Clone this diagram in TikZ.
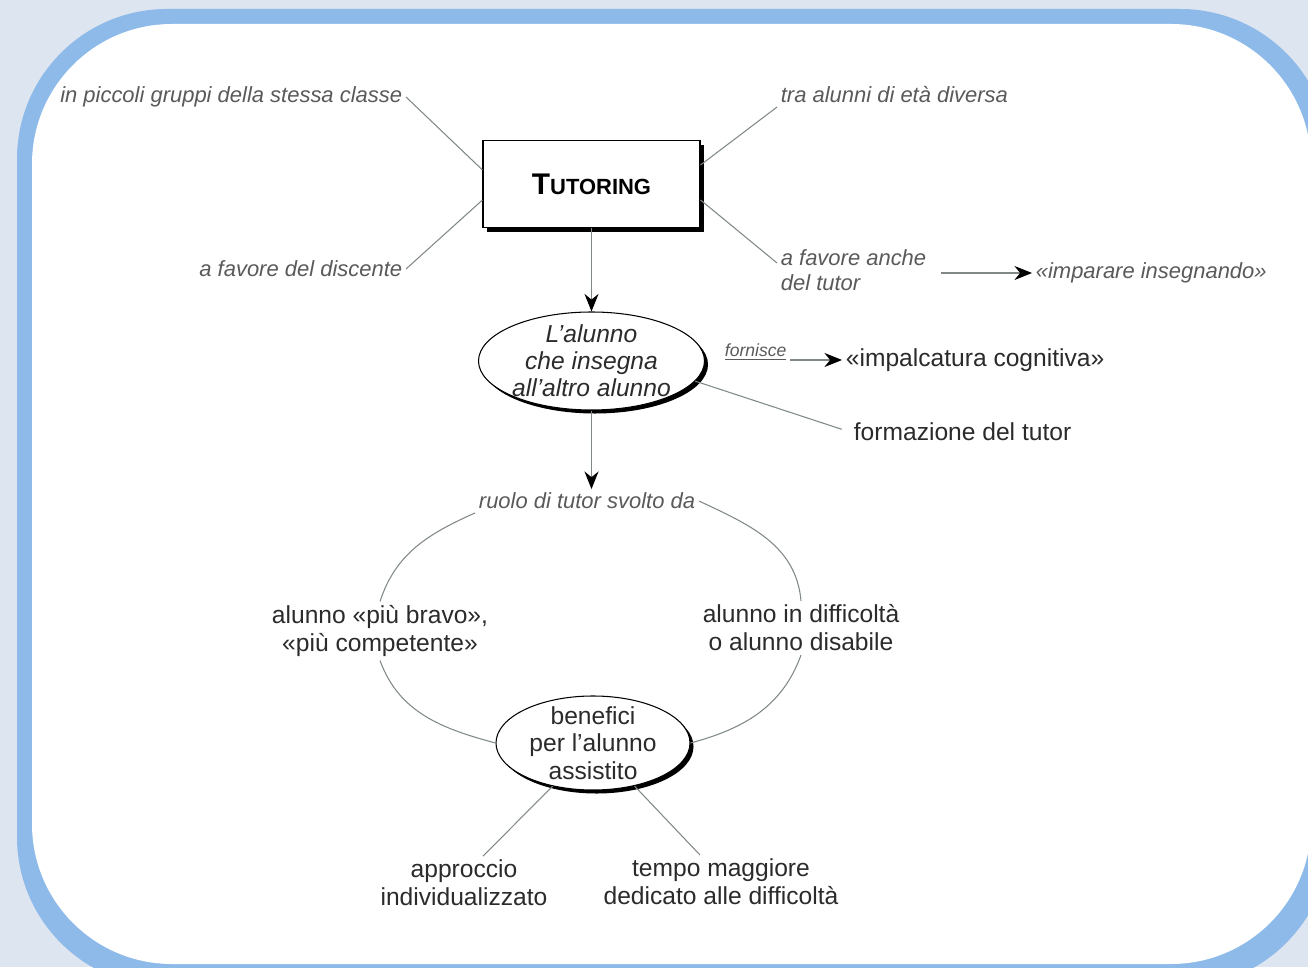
\documentclass[tikz,border=0pt]{standalone}
\usepackage{fontspec}
\setmainfont{Liberation Sans}
\usetikzlibrary{shapes.geometric,shadows,arrows.meta}
\definecolor{pagebg}{HTML}{DDE5F0}
\definecolor{panelblue}{HTML}{8EBAEA}
\definecolor{inkgray}{HTML}{2B2B2B}
\definecolor{notegray}{HTML}{5A5A5A}
\definecolor{linegray}{HTML}{808888}

\begin{document}
\begin{tikzpicture}[scale=1]
\tikzstyle{tutorbox} = [rectangle, draw=black, line width=0.6pt, fill=white, minimum width=4.34cm, minimum height=1.74cm, drop shadow={shadow xshift=2.5pt, shadow yshift=-2.5pt, fill=black, opacity=1}]
\tikzstyle{oval} = [ellipse, draw=black, line width=0.6pt, fill=white, inner xsep=0pt, inner ysep=-5pt, align=center, text=inkgray, font=\fontsize{14}{15.6}\selectfont, drop shadow={shadow xshift=2pt, shadow yshift=-2pt, fill=black, opacity=1}]
\tikzstyle{item} = [align=center, text=inkgray, font=\fontsize{14}{16}\selectfont, inner sep=2pt]
\tikzstyle{note} = [text=notegray, font=\fontsize{12.5}{14.5}\selectfont\itshape, inner sep=2pt]
\tikzstyle{link} = [draw=linegray, line width=0.6pt]
\tikzstyle{flow} = [link, -{Stealth[length=10pt, width=8pt, color=black]}]
\useasboundingbox (0,0) rectangle (26.16,19.34);
\fill[pagebg] (0,0) rectangle (26.16,19.34);
\fill[panelblue, rounded corners=3cm] (0.34,-0.4) rectangle (26.6,19.16);
\fill[white, rounded corners=2.8cm] (0.64,0.06) rectangle (26.22,18.86);
\node (tutoring) at (11.83,15.66) [tutorbox] {\bfseries\fontsize{17}{17}\selectfont T\fontsize{12.5}{12.5}\selectfont UTORING};
\node (alunno) at (11.83,12.12) [oval, minimum width=4.52cm, minimum height=1.96cm, font=\fontsize{14}{15.4}\selectfont\itshape] {L’alunno\\che insegna\\all’altro alunno};
\node (ruolo) at (11.74,9.32) [note] {ruolo di tutor svolto da};
\node (bravo) at (7.60,6.72) [item] {alunno «più bravo»,\\«più competente»};
\node (difficolta) at (16.02,6.78) [item] {alunno in difficoltà\\o alunno disabile};
\node (benefici) at (11.86,4.48) [oval, minimum width=3.88cm, minimum height=1.88cm] {benefici\\per l’alunno\\assistito};
\node (approccio) at (9.28,1.68) [item] {approccio\\individualizzato};
\node (tempo) at (14.42,1.70) [item] {tempo maggiore\\dedicato alle difficoltà};
\node (piccoli) at (8.12,17.40) [note, anchor=east] {in piccoli gruppi della stessa classe};
\node (discente) at (8.12,13.96) [note, anchor=east] {a favore del discente};
\node (diversa) at (15.54,17.44) [note, anchor=west] {tra alunni di età diversa};
\node (favore) at (15.54,13.94) [note, anchor=west, align=left] {a favore anche\\del tutor};
\node (imparare) at (20.64,13.88) [note, anchor=west] {«imparare insegnando»};
\node (fornisce) at (14.42,12.30) [note, anchor=west, font=\fontsize{10}{12}\selectfont\itshape] {\underline{fornisce}};
\node (impalcatura) at (16.84,12.14) [item, anchor=west] {«impalcatura cognitiva»};
\node (formazione) at (17.0,10.70) [item, anchor=west] {formazione del tutor};
\draw[link] (piccoli.east) -- ([yshift=0.28cm]tutoring.west);
\draw[link] (discente.east) -- ([yshift=-0.32cm]tutoring.west);
\draw[link] (diversa.south west) -- ([yshift=0.38cm]tutoring.east);
\draw[link] ([yshift=4pt]favore.west) -- ([yshift=-0.32cm]tutoring.east);
\draw[flow] ([xshift=6pt]favore.east |- imparare.west) -- (imparare.west);
\draw[flow] (tutoring.south) -- (alunno.north);
\draw[flow] (alunno.south) -- (alunno.south |- ruolo.north);
\draw[flow] (fornisce.east |- impalcatura.west) -- (impalcatura.west);
\draw[link, shorten >=5pt] (alunno.-11) -- (formazione.west);
\draw[link] (ruolo.south west) to[out=204,in=72] (bravo.north);
\draw[link] (bravo.south) to[out=-70,in=165] (benefici.west);
\draw[link] (benefici.east) to[out=15,in=-110] (difficolta.south);
\draw[link] (difficolta.north) to[out=95,in=-25] (ruolo.east);
\draw[link] (benefici.227) -- ([xshift=0.38cm]approccio.north);
\draw[link] (benefici.-46) -- ([xshift=-0.42cm]tempo.north);
\end{tikzpicture}
\end{document}
